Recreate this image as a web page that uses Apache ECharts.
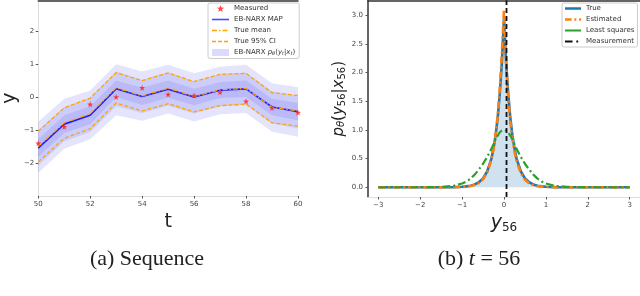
<!DOCTYPE html>
<html><head><meta charset="utf-8">
<script src="https://cdn.jsdelivr.net/npm/echarts@6/dist/echarts.min.js"></script>
<style>html,body{margin:0;padding:0;background:#fff}#c{width:640px;height:296px}</style>
</head><body><div id="c"></div>
<script>
// ---- left panel: sequence ----
const tSteps = [50,51,52,53,54,55,56,57,58,59,60];
const measured = [-1.4,-0.9,-0.22,0.0,0.28,0.08,0.05,0.15,-0.13,-0.33,-0.47];
const mapMean  = [-1.55,-0.82,-0.55,0.25,0.02,0.24,0.0,0.21,0.25,-0.3,-0.44];
const trueMean = [-1.5,-0.78,-0.5,0.28,0.04,0.27,0.02,0.22,0.26,-0.31,-0.42];
const ciUpper  = [-1.04,-0.33,-0.03,0.74,0.5,0.73,0.47,0.69,0.72,0.13,0.05];
const ciLower  = [-1.97,-1.25,-0.96,-0.18,-0.42,-0.2,-0.45,-0.26,-0.21,-0.78,-0.88];
const outerUp  = [-0.75,-0.05,0.2,1.0,0.78,0.98,0.72,0.92,0.98,0.42,0.3];
const outerLo  = [-2.3,-1.57,-1.28,-0.55,-0.72,-0.5,-0.74,-0.52,-0.48,-1.05,-1.2];
const midUp    = [-1.0,-0.3,-0.02,0.78,0.52,0.76,0.48,0.7,0.74,0.18,0.05];
const midLo    = [-2.08,-1.34,-1.06,-0.28,-0.48,-0.26,-0.5,-0.28,-0.24,-0.8,-0.95];
const innUp    = [-1.28,-0.55,-0.28,0.5,0.28,0.5,0.25,0.45,0.5,-0.05,-0.18];
const innLo    = [-1.82,-1.09,-0.82,0.0,-0.24,-0.02,-0.25,-0.03,0.0,-0.55,-0.7];
const leftYTicks = [-2,-1,0,1,2];
const leftXTicks = [50,52,54,56,58,60];

// ---- right panel: density at t = 56 ----
const densX    = [-3,-2.5,-2,-1.5,-1.2,-1.0,-0.9,-0.8,-0.7,-0.6,-0.5,-0.4,-0.3,-0.25,-0.2,-0.15,-0.1,-0.05,0,0.05,0.1,0.15,0.2,0.25,0.3,0.4,0.5,0.6,0.7,0.8,0.9,1.0,1.2,1.5,2,2.5,3];
const densTrue = [0,0,0,0.001,0.003,0.008,0.015,0.027,0.05,0.087,0.156,0.28,0.5,0.68,0.91,1.22,1.64,2.19,2.95,2.19,1.64,1.22,0.91,0.68,0.5,0.28,0.156,0.087,0.05,0.027,0.015,0.008,0.003,0.001,0,0,0];
const densEst  = [0,0,0,0.001,0.002,0.006,0.011,0.021,0.04,0.073,0.14,0.26,0.49,0.67,0.92,1.25,1.72,2.35,3.1,2.2,1.6,1.15,0.85,0.62,0.46,0.245,0.13,0.07,0.038,0.02,0.011,0.006,0.002,0.001,0,0,0];
const densLS   = [0,0,0,0.006,0.025,0.065,0.1,0.15,0.22,0.31,0.41,0.53,0.67,0.75,0.84,0.9,0.96,0.99,1.0,0.99,0.96,0.9,0.84,0.75,0.67,0.53,0.41,0.31,0.22,0.15,0.1,0.065,0.025,0.006,0,0,0];
const measurementX = 0.06;
const rightYTicks = [0,0.5,1.0,1.5,2.0,2.5,3.0];
const rightXTicks = [-3,-2,-1,0,1,2,3];

const pairs = (xs, ys) => xs.map((x,i)=>[x, ys[i]]);
const star = 'path://M0,-10 L2.35,-3.24 L9.51,-3.09 L3.8,1.24 L5.88,8.09 L0,4 L-5.88,8.09 L-3.8,1.24 L-9.51,-3.09 L-2.35,-3.24 Z';
const bandCol = 'rgba(90,90,245,0.16)';
const tickLbl = {fontSize:7, color:'#444', fontFamily:'DejaVu Sans'};
const bandName = 'EB-NARX';
const minus = v => v<0 ? '\u2212'+(-v) : String(v);

// legend line icon drawn as an SVG image (2x resolution)
function lineIcon(color, width, dash){
  const svg = "<svg xmlns='http://www.w3.org/2000/svg' width='34' height='14'><line x1='0' y1='7' x2='34' y2='7' stroke='"+color+
    "' stroke-width='"+(width*2)+"'"+(dash?" stroke-dasharray='"+dash+"'":"")+"/></svg>";
  return 'image://data:image/svg+xml;charset=utf-8,' + encodeURIComponent(svg);
}

function band(lo, up, name){
  const data = tSteps.map((t,i)=>[t, lo[i], up[i]]);
  return {
    type:'custom', name:name, xAxisIndex:0, yAxisIndex:0, data:data, silent:true, z:1,
    itemStyle:{color:bandCol},
    encode:{x:0, y:[1,2]},
    renderItem:(params, api) => {
      if (params.dataIndex !== 0) return null;
      const top = data.map(d => api.coord([d[0], d[2]]));
      const bot = data.map(d => api.coord([d[0], d[1]])).reverse();
      return {type:'polygon', shape:{points:top.concat(bot)}, style:{fill:bandCol}};
    }
  };
}

const chart = echarts.init(document.getElementById('c'), null, {renderer:'canvas'});
chart.setOption({
  animation:false,
  backgroundColor:'#fff',
  grid:[
    {left:30, right:342, top:0.5, bottom:100},
    {left:368, right:0, top:0.5, bottom:99}
  ],
  xAxis:[
    {type:'value', gridIndex:0, min:50, max:60, splitLine:{show:false},
     axisLine:{show:true, onZero:false, lineStyle:{color:'#ddd', width:1}},
     axisTick:{customValues:leftXTicks, length:2.5, lineStyle:{color:'#555'}},
     axisLabel:{customValues:leftXTicks, ...tickLbl, margin:5},
     name:'t', nameLocation:'middle', nameGap:11, nameTextStyle:{fontSize:19, color:'#222', fontFamily:'DejaVu Sans'}},
    {type:'value', gridIndex:1, min:-3.245, max:3.245, splitLine:{show:false},
     axisLine:{show:true, onZero:false, lineStyle:{color:'#ddd', width:1}},
     axisTick:{customValues:rightXTicks, length:2.5, lineStyle:{color:'#555'}},
     axisLabel:{customValues:rightXTicks, ...tickLbl, margin:5, formatter:minus},
     name:'{y|y}{s|56}', nameLocation:'middle', nameGap:9,
     nameTextStyle:{rich:{y:{fontSize:19, fontStyle:'italic', color:'#222', fontFamily:'DejaVu Sans'}, s:{fontSize:12, color:'#222', fontFamily:'DejaVu Sans', padding:[8,0,0,0]}}}},
    {type:'value', gridIndex:0, position:'top', min:50, max:60, axisLine:{show:true, onZero:false, lineStyle:{color:'#333', width:1.5}}, axisTick:{show:false}, axisLabel:{show:false}, splitLine:{show:false}},
    {type:'value', gridIndex:1, position:'top', min:-3.245, max:3.245, axisLine:{show:true, onZero:false, lineStyle:{color:'#333', width:1.5}}, axisTick:{show:false}, axisLabel:{show:false}, splitLine:{show:false}}
  ],
  yAxis:[
    {type:'value', gridIndex:0, min:-3, max:2.93, splitLine:{show:false},
     axisLine:{show:true, onZero:false, lineStyle:{color:'#ddd', width:1}},
     axisTick:{show:true, customValues:leftYTicks, length:2.5, lineStyle:{color:'#555'}},
     axisLabel:{customValues:leftYTicks, ...tickLbl, margin:4, formatter:minus},
     name:'y', nameLocation:'middle', nameGap:13, nameTextStyle:{fontSize:19, color:'#222', fontFamily:'DejaVu Sans'}},
    {type:'value', gridIndex:1, min:-0.17, max:3.26, splitLine:{show:false},
     axisLine:{show:true, onZero:false, lineStyle:{color:'#333', width:1.5}},
     axisTick:{show:true, customValues:rightYTicks, length:2.5, lineStyle:{color:'#555'}},
     axisLabel:{customValues:rightYTicks, ...tickLbl, margin:5, formatter:v=>v.toFixed(1)},
     name:'{p|p}{th|θ}{t|(}{p|y}{s|56}{t||}{p|x}{s|56}{t|)}', nameLocation:'middle', nameGap:21,
     nameTextStyle:{rich:{
       p:{fontSize:15, fontStyle:'italic', color:'#222', fontFamily:'DejaVu Sans'},
       th:{fontSize:10, fontStyle:'italic', color:'#222', fontFamily:'DejaVu Sans', padding:[5,0,0,0]},
       t:{fontSize:15, color:'#222', fontFamily:'DejaVu Sans'},
       s:{fontSize:10, color:'#222', fontFamily:'DejaVu Sans', padding:[6,0,0,0]}}}}
  ],
  legend:[
    {left:208, top:3, orient:'vertical', itemGap:4, itemWidth:17, itemHeight:7, padding:[2,4,2,4],
     backgroundColor:'#fff', borderColor:'#ccc', borderWidth:1, borderRadius:2,
     textStyle:{fontSize:7, color:'#333', fontFamily:'DejaVu Sans',
       rich:{a:{fontSize:7, color:'#333', fontFamily:'DejaVu Sans'}, i:{fontSize:7, fontStyle:'italic', color:'#333', fontFamily:'DejaVu Sans'}, s:{fontSize:5, fontStyle:'italic', color:'#333', fontFamily:'DejaVu Sans', padding:[3,0,0,0]}}},
     formatter: n => n===bandName ? '{a|EB-NARX }{i|p}{s|θ}{a|(}{i|y}{s|t}{a||}{i|x}{s|t}{a|)}' : n,
     data:[{name:'Measured'},
           {name:'EB-NARX MAP', icon:lineIcon('#4a4aff',1.6,'')},
           {name:'True mean', icon:lineIcon('#ffa500',1.3,'10,4,3,4')},
           {name:'True 95% CI', icon:lineIcon('#ffa500',1.3,'8,4')},
           {name:bandName, icon:'rect', itemStyle:{color:'rgba(90,90,245,0.22)'}}]},
    {left:562, top:3, orient:'vertical', itemGap:4, itemWidth:16, itemHeight:7, padding:[2,3,2,3],
     backgroundColor:'#fff', borderColor:'#ccc', borderWidth:1, borderRadius:2,
     textStyle:{fontSize:7, color:'#333', fontFamily:'DejaVu Sans'},
     data:[{name:'True', icon:lineIcon('#1f77b4',2.4,'')},
           {name:'Estimated', icon:lineIcon('#ff7f0e',2.4,'14,6,4,6')},
           {name:'Least squares', icon:lineIcon('#2ca02c',2.2,'')},
           {name:'Measurement', icon:lineIcon('#111',2,'16,8,4,8')}]}
  ],
  series:[
    band(outerLo, outerUp, bandName),
    band(midLo, midUp, 'mid band'),
    band(innLo, innUp, 'inner band'),
    {type:'line', name:'EB-NARX MAP', xAxisIndex:0, yAxisIndex:0, data:pairs(tSteps, mapMean), symbol:'none',
     lineStyle:{color:'#1a1aff', width:1.6}, itemStyle:{color:'#1a1aff'}, z:3},
    {type:'line', name:'True mean', xAxisIndex:0, yAxisIndex:0, data:pairs(tSteps, trueMean), symbol:'none',
     lineStyle:{color:'#ffa500', width:1.3, type:[5,2,1.5,2]}, itemStyle:{color:'#ffa500'}, z:4},
    {type:'line', name:'True 95% CI', xAxisIndex:0, yAxisIndex:0, data:pairs(tSteps, ciUpper), symbol:'none',
     lineStyle:{color:'#ffa500', width:1.3, type:[4,2]}, itemStyle:{color:'#ffa500'}, z:4},
    {type:'line', name:'True 95% CI', xAxisIndex:0, yAxisIndex:0, data:pairs(tSteps, ciLower), symbol:'none',
     lineStyle:{color:'#ffa500', width:1.3, type:[4,2]}, itemStyle:{color:'#ffa500'}, z:4},
    {type:'scatter', name:'Measured', xAxisIndex:0, yAxisIndex:0, data:pairs(tSteps, measured), symbol:star, symbolSize:6,
     itemStyle:{color:'#ff1a1a'}, z:5},

    {type:'line', name:'True', xAxisIndex:1, yAxisIndex:1, data:pairs(densX, densTrue), symbol:'none',
     lineStyle:{color:'#1f77b4', width:2.6}, areaStyle:{color:'rgba(31,119,180,0.3)', origin:0}, itemStyle:{color:'#1f77b4'}, z:2},
    {type:'line', name:'Estimated', xAxisIndex:1, yAxisIndex:1, data:pairs(densX, densEst), symbol:'none',
     lineStyle:{color:'#ff7f0e', width:2.6, type:[7,3,2,3]}, itemStyle:{color:'#ff7f0e'}, z:3},
    {type:'line', name:'Least squares', xAxisIndex:1, yAxisIndex:1, data:pairs(densX, densLS), symbol:'none',
     lineStyle:{color:'#2ca02c', width:2.2, type:[8,3,2,3]}, itemStyle:{color:'#2ca02c'}, z:3},
    {type:'line', name:'Measurement', xAxisIndex:1, yAxisIndex:1, data:[[measurementX,-0.17],[measurementX,3.26]], symbol:'none',
     lineStyle:{color:'#111', width:1.8, type:[5,3]}, itemStyle:{color:'#111'}, z:4}
  ],
  graphic:[
    {type:'text', x:147, y:259, style:{text:'(a) Sequence', font:'22px "Liberation Serif"', fill:'#222', textAlign:'center', textVerticalAlign:'middle'}},
    {type:'text', x:479, y:259, style:{text:'{n|(b) }{i|t}{n| = 56}', textAlign:'center', textVerticalAlign:'middle',
      rich:{n:{font:'22px "Liberation Serif"', fill:'#222'}, i:{font:'italic 22px "Liberation Serif"', fill:'#222'}}}}
  ]
});
</script></body></html>
